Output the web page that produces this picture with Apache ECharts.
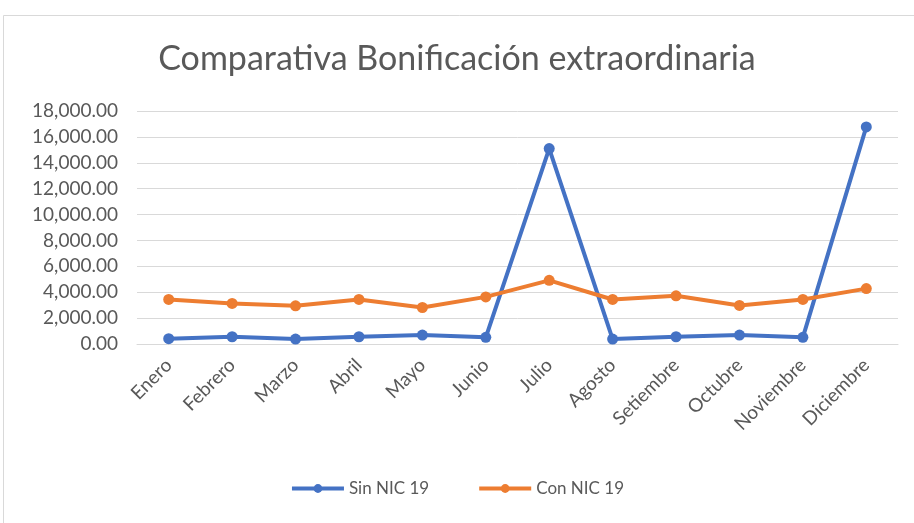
<!DOCTYPE html>
<html>
<head>
<meta charset="utf-8">
<script src="https://cdn.jsdelivr.net/npm/echarts@6/dist/echarts.min.js"></script>
<style>
  html, body { margin: 0; padding: 0; background: #fff; }
  #chart { width: 914px; height: 523px; }
</style>
</head>
<body>
<div id="chart"></div>
<script>
// datos
var meses = ['Enero', 'Febrero', 'Marzo', 'Abril', 'Mayo', 'Junio', 'Julio', 'Agosto', 'Setiembre', 'Octubre', 'Noviembre', 'Diciembre'];
var sinNic = [410, 560, 385, 560, 690, 515, 15100, 385, 560, 690, 515, 16770];
var conNic = [3440, 3130, 2950, 3440, 2820, 3640, 4920, 3440, 3720, 2980, 3440, 4280];

var gris = '#595959';
var fuente = 'Lato';

var myChart = echarts.init(document.getElementById('chart'));
var option = {
  animation: false,
  backgroundColor: '#fff',
  title: {
    text: 'Comparativa Bonificación extraordinaria',
    left: 'center',
    top: 37,
    textStyle: { color: gris, fontFamily: fuente, fontWeight: 'normal', fontSize: 34 }
  },
  graphic: [{
    type: 'rect',
    shape: { x: 3.5, y: 15.5, width: 1000, height: 700 },
    style: { fill: 'none', stroke: '#d9d9d9', lineWidth: 1 },
    silent: true
  }],
  legend: {
    bottom: 21,
    left: 'center',
    itemWidth: 52,
    itemHeight: 11,
    itemGap: 48,
    lineStyle: { width: 4 },
    textStyle: { color: gris, fontFamily: fuente, fontSize: 17 },
    data: ['Sin NIC 19', 'Con NIC 19']
  },
  grid: { left: 137, right: 16, top: 111, height: 233, containLabel: false },
  xAxis: {
    type: 'category',
    data: meses,
    axisLine: { lineStyle: { color: '#d9d9d9' } },
    axisTick: { show: false },
    axisLabel: { rotate: 45, color: gris, fontFamily: fuente, fontSize: 19, margin: 18, interval: 0 }
  },
  yAxis: {
    type: 'value',
    min: 0,
    max: 18000,
    interval: 2000,
    axisLine: { show: false },
    axisTick: { show: false },
    splitLine: { lineStyle: { color: '#d9d9d9', width: 1 } },
    axisLabel: {
      color: gris, fontFamily: fuente, fontSize: 19, margin: 19,
      formatter: function (v) {
        return v.toLocaleString('en-US', { minimumFractionDigits: 2, maximumFractionDigits: 2 });
      }
    }
  },
  series: [
    {
      name: 'Sin NIC 19',
      type: 'line',
      data: sinNic,
      symbol: 'circle',
      symbolSize: 11,
      itemStyle: { color: '#4472C4' },
      lineStyle: { color: '#4472C4', width: 4 }
    },
    {
      name: 'Con NIC 19',
      type: 'line',
      data: conNic,
      symbol: 'circle',
      symbolSize: 11,
      itemStyle: { color: '#ED7D31' },
      lineStyle: { color: '#ED7D31', width: 4 }
    }
  ]
};
myChart.setOption(option);
</script>
</body>
</html>
